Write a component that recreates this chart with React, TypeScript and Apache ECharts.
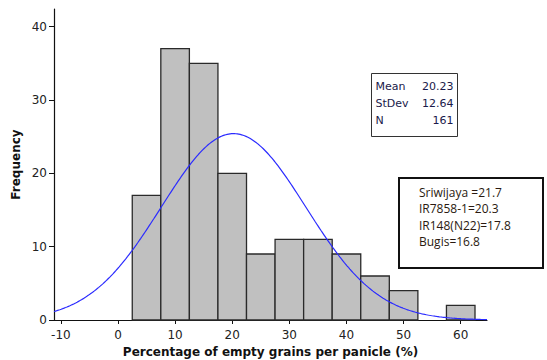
import React, { useEffect, useRef } from "react";
import * as echarts from "echarts";

const binCenters = [5, 10, 15, 20, 25, 30, 35, 40, 45, 50, 55, 60];
const frequencies = [17, 37, 35, 20, 9, 11, 11, 9, 6, 4, 0, 2];
const binWidth = 5;
const mean = 20.23;
const stdev = 12.64;
const nCount = 161;
const xTicks = [-10, 0, 10, 20, 30, 40, 50, 60];
const yTicks = [0, 10, 20, 30, 40];
const statLabels = ["Mean", "StDev", "N"];
const statValues = ["20.23", "12.64", "161"];
const varietyNotes = ["Sriwijaya =21.7", "IR7858-1=20.3", "IR148(N22)=17.8", "Bugis=16.8"];

const X_MIN = -11.2;
const X_MAX = 64.6;
const Y_MAX = 42.4;

function normalCurve(): number[][] {
  const pts: number[][] = [];
  const steps = 300;
  for (let i = 0; i <= steps; i++) {
    const x = X_MIN + ((X_MAX - X_MIN) * i) / steps;
    const z = (x - mean) / stdev;
    const y = (nCount * binWidth) / (stdev * Math.sqrt(2 * Math.PI)) * Math.exp(-0.5 * z * z);
    pts.push([x, y]);
  }
  return pts;
}

export default function App() {
  const ref = useRef<HTMLDivElement>(null);
  useEffect(() => {
    if (!ref.current) return;
    const chart = echarts.init(ref.current, undefined, { renderer: "svg" });
    const histData = binCenters.map((c, i) => [c, frequencies[i]]);
    const tickFont = { fontFamily: "DejaVu Sans", fontSize: 12, color: "#222" };
    chart.setOption({
      animation: false,
      backgroundColor: "#ffffff",
      grid: { left: 54, right: 60, top: 9, bottom: 40, containLabel: false, outerBoundsMode: "none" },
      xAxis: {
        type: "value",
        min: X_MIN,
        max: X_MAX,
        name: "Percentage of empty grains per panicle (%)",
        nameLocation: "middle",
        nameGap: 26,
        nameMoveOverlap: false,
        nameTextStyle: { fontFamily: "DejaVu Sans", fontSize: 12, fontWeight: "bold", color: "#111" },
        axisLine: { show: true, onZero: false, lineStyle: { color: "#111", width: 1.2 } },
        axisTick: { show: true, customValues: xTicks, length: 4, lineStyle: { color: "#111" } },
        axisLabel: { customValues: xTicks, margin: 9, ...tickFont },
        splitLine: { show: false },
      },
      yAxis: {
        type: "value",
        min: 0,
        max: Y_MAX,
        name: "Frequency",
        nameLocation: "middle",
        nameGap: 32,
        nameMoveOverlap: false,
        nameTextStyle: { fontFamily: "DejaVu Sans", fontSize: 12, fontWeight: "bold", color: "#111" },
        axisLine: { show: true, onZero: false, lineStyle: { color: "#111", width: 1.2 } },
        axisTick: { show: true, customValues: yTicks, length: 5, lineStyle: { color: "#111" } },
        axisLabel: { customValues: yTicks, margin: 7, ...tickFont },
        splitLine: { show: false },
      },
      series: [
        {
          type: "custom",
          data: histData,
          renderItem: (params: any, api: any) => {
            const c = api.value(0);
            const v = api.value(1);
            if (!v) return null;
            const p0 = api.coord([c - binWidth / 2, v]);
            const p1 = api.coord([c + binWidth / 2, 0]);
            return {
              type: "rect",
              shape: { x: p0[0], y: p0[1], width: p1[0] - p0[0], height: p1[1] - p0[1] },
              style: { fill: "#c0c0c0", stroke: "#2a2a2a", lineWidth: 1.3 },
            };
          },
          encode: { x: 0, y: 1 },
          z: 2,
        },
        {
          type: "line",
          data: normalCurve(),
          showSymbol: false,
          symbol: "none",
          lineStyle: { color: "#2b2bff", width: 1.2 },
          z: 3,
        },
      ],
      graphic: [
        {
          type: "group",
          left: 371,
          top: 73,
          children: [
            { type: "rect", shape: { x: 0, y: 0, width: 86, height: 63 }, style: { fill: "#fff", stroke: "#333", lineWidth: 1 } },
            ...statLabels.map((s, i) => ({
              type: "text",
              x: 4,
              y: 7 + i * 17,
              style: { text: s, fontFamily: "DejaVu Sans", fontSize: 11, fill: "#1a1a4a" },
            })),
            ...statValues.map((s, i) => ({
              type: "text",
              x: 82,
              y: 7 + i * 17,
              style: { text: s, fontFamily: "DejaVu Sans", fontSize: 11, fill: "#1a1a4a", align: "right" },
            })),
          ],
        },
        {
          type: "group",
          left: 398,
          top: 177,
          children: [
            { type: "rect", shape: { x: 0, y: 0, width: 144, height: 90 }, style: { fill: "#fff", stroke: "#111", lineWidth: 2 } },
            ...varietyNotes.map((s, i) => ({
              type: "text",
              x: 20,
              y: 8 + i * 16.5,
              style: { text: s, fontFamily: "Open Sans", fontSize: 12, fill: "#2a1a10" },
            })),
          ],
        },
      ],
    });
    return () => chart.dispose();
  }, []);
  return <div ref={ref} style={{ width: 547, height: 360, position: "absolute", left: 0, top: 0 }} />;
}
